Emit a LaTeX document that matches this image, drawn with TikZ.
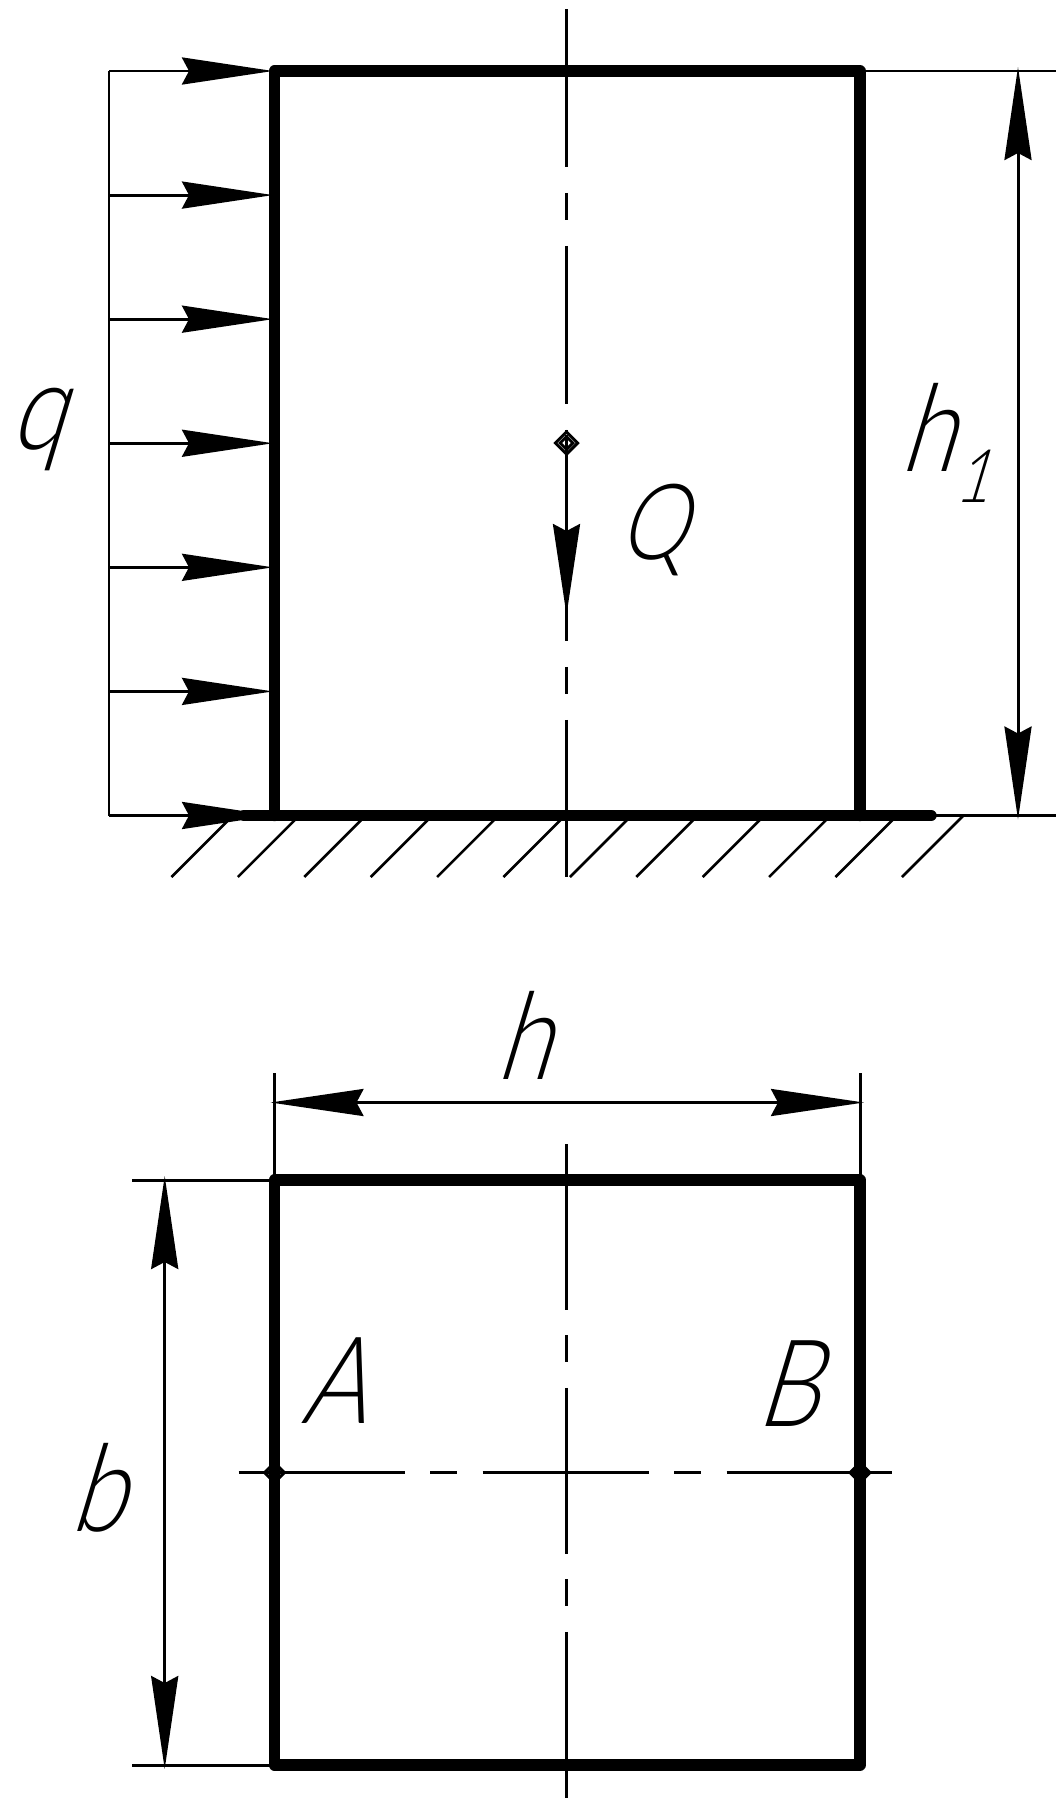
\documentclass[tikz,border=0pt]{standalone}
\usepackage{fontspec}
\usetikzlibrary{arrows.meta,shapes.geometric}
\newfontfamily\gostfont[FakeSlant=0.3,FakeStretch=0.82,UprightFont=* Light]{Lato}
\newcommand{\lowone}[1]{\raisebox{-.62cm}{\fontsize{42}{42}\selectfont #1}}
\tikzset{
    contour/.style={line width=11.5*0.5669pt,line join=round,line cap=round},
    thinline/.style={line width=3*0.5669pt},
    axisupper/.style={thinline,dash pattern=on 3.16cm off .52cm on .54cm off .52cm},
    axislower/.style={thinline,dash pattern=on 3.32cm off .51cm on .54cm off .51cm},
    forcearrow/.style={thinline,shorten >=-.08cm,-{Stealth[length=1.82cm,width=.54cm,inset=.14cm]}},
    dimarrow/.style={thinline,shorten >=-.08cm,shorten <=-.08cm,{Stealth[length=1.86cm,width=.54cm,inset=.14cm]}-{Stealth[length=1.86cm,width=.54cm,inset=.14cm]}},
    hatchline/.style={line width=2.6*0.5669pt},
    label/.style={inner sep=0pt,font=\gostfont\fontsize{69}{69}\selectfont},
    taillabel/.style={inner sep=0pt,font=\gostfont\fontsize{60}{60}\selectfont},
    centremark/.style={diamond,draw,thinline,inner sep=0pt,minimum size=#1}
}
\begin{document}
\begin{tikzpicture}[x=0.02cm,y=-0.02cm]
    \useasboundingbox (0,0) rectangle (1063,1809);
    % upper view
    \coordinate (wallBL) at (274.5,815.5);
    \coordinate (wallTL) at (274.5,71);
    \coordinate (wallTR) at (860,71);
    \coordinate (wallBR) at (860,815.5);
    \coordinate (groundL) at (244,815.5);
    \coordinate (groundR) at (931,815.5);
    \coordinate (frameT) at (109,71);
    \coordinate (frameB) at (109,815.5);
    \coordinate (extTop) at (1056,71);
    \coordinate (extBot) at (1056,815.5);
    \coordinate (dimTop) at (1018,71);
    \coordinate (dimBot) at (1018,815.5);
    \coordinate (axisTop) at (566.5,9);
    \coordinate (axisBot) at (566.5,877);
    \coordinate (forceEnd) at (566.5,611);

    % hatching
    \foreach \i in {0,...,11} {
        \coordinate (hatchA\i) at ({171.5+66.4*\i},877);
        \coordinate (hatchB\i) at ({232.5+66.4*\i},816);
        \draw[hatchline] (hatchA\i) -- (hatchB\i);
    }
    \draw[thinline] (frameT) -- (frameB);
    \foreach \i in {0,...,6} {
        \coordinate (loadA\i) at (109,{71+124.08*\i});
        \coordinate (loadB\i) at (269,{71+124.08*\i});
        \draw[forcearrow] (loadA\i) -- (loadB\i);
    }
    \draw[contour] (wallBL) -- (wallTL) -- (wallTR) -- (wallBR);
    \draw[contour] (groundL) -- (groundR);
    \draw[axisupper] (axisTop) -- (axisBot);
    \draw[thinline] (wallTR) -- (extTop);
    \draw[thinline] (groundR) -- (extBot);
    \draw[dimarrow] (dimTop) -- (dimBot);
    \node[centremark=.47cm,fill=white] (gravity) at (566.5,443) {};
    \node[centremark=.28cm] (gravityIn) at (gravity) {};
    \draw[thinline] (gravityIn.north) -- (gravityIn.south);
    \draw[forcearrow] (gravity.south) -- (forceEnd);

    \node[label] (labelq) at (37,429) {q};
    \node[label,anchor=base west] (labelhOne) at (899.5,471) {h\lowone{1}};
    \node[taillabel] (labelQ) at (652,530) {Q};

    % lower view
    \coordinate (secTL) at (274.5,1180);
    \coordinate (secBR) at (860,1765);
    \coordinate (secBL) at (274.5,1765);
    \coordinate (secTR) at (860,1180);
    \coordinate (extHL) at (274.5,1073);
    \coordinate (extHR) at (860,1073);
    \coordinate (dimHL) at (274.5,1102.5);
    \coordinate (dimHR) at (860,1102.5);
    \coordinate (extBT) at (132,1180);
    \coordinate (extBB) at (132,1765);
    \coordinate (dimBT) at (164.7,1180);
    \coordinate (dimBB) at (164.7,1765);
    \coordinate (vertT) at (566.5,1144);
    \coordinate (vertB) at (566.5,1800);
    \coordinate (horzL) at (238.6,1472.7);
    \coordinate (horzR) at (899,1472.7);

    \draw[contour] (secTL) rectangle (secBR);
    \draw[thinline] (extHL) -- (secTL);
    \draw[thinline] (extHR) -- (secTR);
    \draw[thinline] (extBT) -- (secTL);
    \draw[thinline] (extBB) -- (secBL);
    \draw[dimarrow] (dimHL) -- (dimHR);
    \draw[dimarrow] (dimBT) -- (dimBB);
    \draw[axislower] (vertT) -- (vertB);
    \draw[axislower] (horzL) -- (horzR);
    \node[centremark=.42cm] (pointA) at (274.5,1472.7) {};
    \node[centremark=.42cm] (pointB) at (860,1472.7) {};

    \node[label] (labelh) at (523,1035) {h};
    \node[label] (labelA) at (333,1381) {A};
    \node[label] (labelB) at (787,1384) {B};
    \node[label] (labelb) at (97,1488) {b};
\end{tikzpicture}
\end{document}
